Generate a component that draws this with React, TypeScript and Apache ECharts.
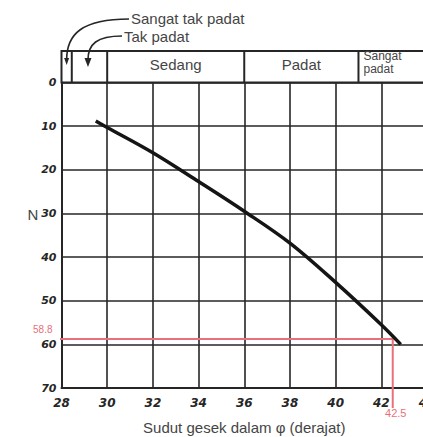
import React, { useEffect, useRef } from "react";
import * as echarts from "echarts";

// Curve: friction angle φ (deg) vs. N
const phiDegrees = [29.5, 30, 32, 34, 36, 38, 40, 42, 42.85];
const nBlows = [8.8, 10.3, 16.1, 22.7, 29.5, 36.8, 45.8, 55.5, 60];

// Density zones along the φ axis
const zoneBounds = [28, 28.45, 30, 36, 41, 44];
const zoneLabels = ["Sangat tak padat", "Tak padat", "Sedang", "Padat", "Sangat padat"];

// Reading example
const readN = 58.8;
const readPhi = 42.5;
const readNLabel = "58.8";
const readPhiLabel = "42.5";
const readStartPhi = 27.8;
const readEndN = 74.6;

const xMin = 28;
const xMax = 44;
const xStep = 2;
const yMin = 0;
const yMax = 70;
const yStep = 10;

const xName = "Sudut gesek dalam φ (derajat)";
const yName = "N";

export default function App() {
  const ref = useRef<HTMLDivElement>(null);
  useEffect(() => {
    document.body.style.margin = "0";
    const chart = echarts.init(ref.current!, null, { renderer: "svg" });
    const ink = "#262626";
    const txt = "#454545";
    const red = "#e8707a";
    const font = "Liberation Sans, Arial, sans-serif";
    const tickFont = {
      color: ink,
      fontSize: 12,
      fontWeight: "bold",
      fontStyle: "italic",
      fontFamily: "DejaVu Sans, sans-serif",
    };
    chart.setOption({
      animation: false,
      backgroundColor: "#ffffff",
      grid: { left: 61.5, top: 82.5, width: 365.5, height: 305.5, outerBoundsMode: "none", containLabel: false },
      xAxis: {
        type: "value",
        min: xMin,
        max: xMax,
        interval: xStep,
        axisLine: { show: true, onZero: false, lineStyle: { color: ink, width: 2 } },
        axisTick: { show: false },
        splitLine: { show: true, lineStyle: { color: ink, width: 1.6 } },
        axisLabel: { ...tickFont, margin: 9 },
        name: xName,
        nameLocation: "middle",
        nameGap: 32,
        nameTextStyle: { color: txt, fontSize: 15, fontFamily: font },
      },
      yAxis: {
        type: "value",
        inverse: true,
        min: yMin,
        max: yMax,
        interval: yStep,
        axisLine: { show: true, onZero: false, lineStyle: { color: ink, width: 2 } },
        axisTick: { show: false },
        splitLine: { show: true, lineStyle: { color: ink, width: 1.6 } },
        axisLabel: { ...tickFont, fontSize: 11, margin: 5, verticalAlign: "middle", padding: [0, 0, 7, 0] },
      },
      series: [
        {
          type: "line",
          data: phiDegrees.map((p, i) => [p, nBlows[i]]),
          smooth: 0.35,
          symbol: "none",
          lineStyle: { color: "#151515", width: 3.5 },
          z: 5,
        },
        {
          type: "line",
          data: [
            [readStartPhi, readN],
            [readPhi, readN],
            [readPhi, readEndN],
          ],
          symbol: "none",
          clip: false,
          lineStyle: { color: red, width: 2 },
          z: 4,
        },
      ],
    });

    const px = (x: number, y: number) => chart.convertToPixel({ gridIndex: 0 }, [x, y]) as number[];
    const bandTop = 51;
    const bandBottom = px(xMin, yMin)[1];
    const xs = zoneBounds.map((b) => px(b, yMin)[0]);
    const g: any[] = [];
    g.push({
      type: "rect",
      shape: { x: xs[0], y: bandTop, width: xs[xs.length - 1] - xs[0], height: bandBottom - bandTop },
      style: { fill: "none", stroke: ink, lineWidth: 2 },
    });
    for (let i = 1; i < xs.length - 1; i++) {
      g.push({
        type: "line",
        shape: { x1: xs[i], y1: bandTop, x2: xs[i], y2: bandBottom },
        style: { stroke: ink, lineWidth: 2 },
      });
    }
    const c0 = (xs[0] + xs[1]) / 2;
    const c1 = (xs[1] + xs[2]) / 2 - 1.5;
    // Sedang, Padat
    for (const i of [2, 3]) {
      g.push({
        type: "text",
        x: (xs[i] + xs[i + 1]) / 2,
        y: 64.5,
        style: { text: zoneLabels[i], fill: txt, fontSize: 15, fontFamily: font, align: "center", verticalAlign: "middle" },
      });
    }
    const lastWords = zoneLabels[4].split(" ");
    g.push({
      type: "text",
      x: xs[4] + 5,
      y: 56,
      style: { text: lastWords[0], fill: txt, fontSize: 12, lineHeight: 12, fontFamily: font, align: "left", verticalAlign: "middle" },
    });
    g.push({
      type: "text",
      x: xs[4] + 5,
      y: 69,
      style: { text: lastWords[1], fill: txt, fontSize: 12, lineHeight: 12, fontFamily: font, align: "left", verticalAlign: "middle" },
    });
    // annotations
    g.push({
      type: "text",
      x: 131,
      y: 18,
      style: { text: zoneLabels[0], fill: txt, fontSize: 15, fontFamily: font, align: "left", verticalAlign: "middle" },
    });
    g.push({
      type: "text",
      x: 124,
      y: 36,
      style: { text: zoneLabels[1], fill: txt, fontSize: 15, fontFamily: font, align: "left", verticalAlign: "middle" },
    });
    g.push({
      type: "bezierCurve",
      shape: { x1: 129, y1: 19, cpx1: 82, cpy1: 19, cpx2: c0, cpy2: 34, x2: c0, y2: 60 },
      style: { stroke: ink, lineWidth: 1.6, fill: "none" },
    });
    g.push({
      type: "polygon",
      shape: { points: [[c0 - 2.5, 58], [c0 + 2.5, 58], [c0, 65]] },
      style: { fill: ink },
    });
    g.push({
      type: "bezierCurve",
      shape: { x1: 122, y1: 36, cpx1: 97, cpy1: 36, cpx2: c1, cpy2: 44, x2: c1, y2: 60 },
      style: { stroke: ink, lineWidth: 1.6, fill: "none" },
    });
    g.push({
      type: "polygon",
      shape: { points: [[c1 - 3.5, 58], [c1 + 3.5, 58], [c1, 67]] },
      style: { fill: ink },
    });
    // y axis name
    g.push({
      type: "text",
      x: 33,
      y: 214,
      style: { text: yName, fill: txt, fontSize: 15, fontFamily: font, align: "center", verticalAlign: "middle" },
    });
    // red reading labels
    const pN = px(xMin, readN);
    g.push({
      type: "text",
      x: pN[0] - 9,
      y: pN[1] - 10,
      style: { text: readNLabel, fill: red, fontSize: 10, fontFamily: font, align: "right", verticalAlign: "middle" },
    });
    const pPhi = px(readPhi, yMax);
    g.push({
      type: "text",
      x: pPhi[0] + 3,
      y: pPhi[1] + 25,
      style: { text: readPhiLabel, fill: red, fontSize: 11, fontFamily: font, align: "center", verticalAlign: "middle" },
    });
    chart.setOption({ graphic: g });
    return () => chart.dispose();
  }, []);
  return <div ref={ref} style={{ width: 423, height: 437 }} />;
}
